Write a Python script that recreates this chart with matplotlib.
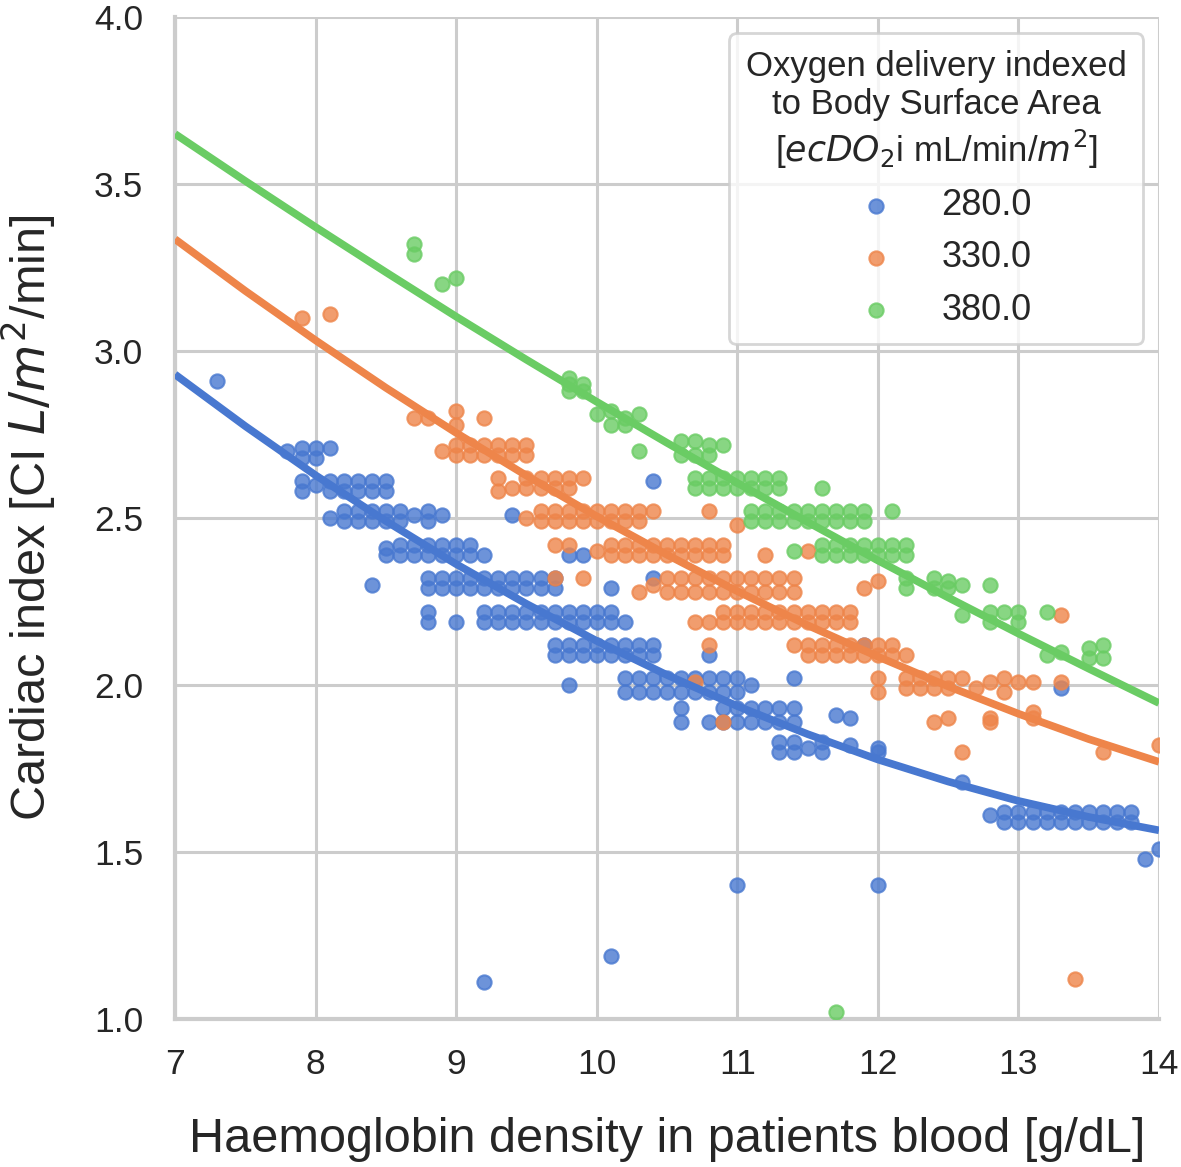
import numpy as np
import matplotlib.pyplot as plt

plt.rcParams['font.family'] = ['Liberation Sans', 'DejaVu Sans']
plt.rcParams['mathtext.fontset'] = 'dejavusans'

# oxygen delivery groups (legend labels)
groups = ['280.0', '330.0', '380.0']
colors = ['#4878d0', '#ee854a', '#6acc64']

# scatter points: {CI value: [Hb values]}
blue_rows = {
    2.91: [7.3],
    2.71: [7.9, 8.0, 8.1],
    2.70: [7.8],
    2.68: [7.9, 8.0],
    2.61: [7.9, 8.1, 8.2, 8.3, 8.4, 8.5, 10.4],
    2.60: [8.0],
    2.58: [7.9, 8.1, 8.2, 8.3, 8.4, 8.5],
    2.52: [8.2, 8.3, 8.4, 8.5, 8.6, 8.8],
    2.51: [8.7, 8.9, 9.4],
    2.50: [8.1],
    2.49: [8.2, 8.3, 8.4, 8.5, 8.6, 8.8],
    2.42: [8.6, 8.7, 8.8, 8.9, 9.0, 9.1],
    2.41: [8.5],
    2.39: [8.5, 8.6, 8.7, 8.8, 8.9, 9.0, 9.1, 9.2, 9.8, 9.9],
    2.32: [8.8, 8.9, 9.0, 9.1, 9.2, 9.3, 9.4, 9.5, 9.6, 9.7, 10.4],
    2.30: [8.4],
    2.29: [8.8, 8.9, 9.0, 9.1, 9.2, 9.3, 9.4, 9.5, 9.6, 9.7, 10.1],
    2.22: [8.8, 9.2, 9.3, 9.4, 9.5, 9.6, 9.7, 9.8, 9.9, 10.0, 10.1],
    2.19: [8.8, 9.0, 9.2, 9.3, 9.4, 9.5, 9.6, 9.7, 9.8, 9.9, 10.0, 10.1, 10.2],
    2.12: [9.7, 9.8, 9.9, 10.0, 10.1, 10.2, 10.3, 10.4, 11.9],
    2.09: [9.7, 9.8, 9.9, 10.0, 10.1, 10.2, 10.3, 10.4, 10.8],
    2.02: [10.2, 10.3, 10.4, 10.5, 10.6, 10.7, 10.8, 10.9, 11.0, 11.4],
    2.00: [9.8, 11.1],
    1.99: [13.3],
    1.98: [10.2, 10.3, 10.4, 10.5, 10.6, 10.7, 10.8, 10.9, 11.0],
    1.93: [10.6, 10.9, 11.0, 11.1, 11.2, 11.3, 11.4],
    1.91: [11.7],
    1.90: [11.8],
    1.89: [10.6, 10.8, 10.9, 11.0, 11.1, 11.2, 11.3, 11.4],
    1.83: [11.3, 11.4, 11.6],
    1.82: [11.8],
    1.81: [11.5, 12.0],
    1.80: [11.3, 11.4, 11.6, 12.0],
    1.71: [12.6],
    1.62: [12.9, 13.0, 13.1, 13.2, 13.3, 13.4, 13.5, 13.6, 13.7, 13.8],
    1.61: [12.8],
    1.59: [12.9, 13.0, 13.1, 13.2, 13.3, 13.4, 13.5, 13.6, 13.7, 13.8],
    1.51: [14.0],
    1.48: [13.9],
    1.40: [11.0, 12.0],
    1.19: [10.1],
    1.11: [9.2],
}
orange_rows = {
    3.11: [8.1],
    3.10: [7.9],
    2.82: [9.0],
    2.80: [8.7, 8.8, 9.2],
    2.78: [9.0],
    2.72: [9.0, 9.1, 9.2, 9.3, 9.4, 9.5],
    2.70: [8.9],
    2.69: [9.0, 9.1, 9.2, 9.3, 9.4, 9.5],
    2.62: [9.3, 9.5, 9.6, 9.7, 9.8, 9.9],
    2.59: [9.4, 9.5, 9.6, 9.7, 9.8],
    2.58: [9.3],
    2.52: [9.6, 9.7, 9.8, 9.9, 10.0, 10.1, 10.2, 10.3, 10.4, 10.8],
    2.50: [9.5],
    2.49: [9.6, 9.7, 9.8, 9.9, 10.0, 10.1, 10.2, 10.3],
    2.48: [11.0],
    2.42: [9.7, 9.8, 10.1, 10.2, 10.3, 10.4, 10.5, 10.6, 10.7, 10.8, 10.9],
    2.40: [10.0, 11.5],
    2.39: [10.1, 10.2, 10.3, 10.4, 10.5, 10.6, 10.7, 10.8, 10.9, 11.2],
    2.32: [9.7, 9.9, 10.5, 10.6, 10.7, 10.8, 10.9, 11.0, 11.1, 11.2, 11.3, 11.4],
    2.31: [12.0],
    2.30: [10.4],
    2.29: [11.9],
    2.28: [10.3, 10.5, 10.6, 10.7, 10.8, 10.9, 11.0, 11.1, 11.2, 11.3, 11.4],
    2.22: [10.9, 11.0, 11.1, 11.2, 11.3, 11.4, 11.5, 11.6, 11.7, 11.8],
    2.21: [13.3],
    2.19: [10.7, 10.8, 10.9, 11.0, 11.1, 11.2, 11.3, 11.4, 11.5, 11.6, 11.7, 11.8],
    2.12: [10.8, 11.4, 11.5, 11.6, 11.7, 11.8, 11.9, 12.0, 12.1],
    2.09: [11.5, 11.6, 11.7, 11.8, 11.9, 12.0, 12.1, 12.2],
    2.02: [12.0, 12.2, 12.3, 12.4, 12.5, 12.6, 12.9],
    2.01: [10.7, 12.8, 13.0, 13.1, 13.3],
    1.99: [12.2, 12.3, 12.4, 12.5, 12.7],
    1.98: [12.0, 12.9],
    1.92: [13.1],
    1.90: [12.5, 12.8, 13.1],
    1.89: [10.9, 12.4, 12.8],
    1.82: [14.0],
    1.80: [12.6, 13.6],
    1.12: [13.4],
}
green_rows = {
    3.32: [8.7],
    3.29: [8.7],
    3.22: [9.0],
    3.20: [8.9],
    2.92: [9.8],
    2.90: [9.8, 9.9],
    2.88: [9.8, 9.9],
    2.82: [10.1],
    2.81: [10.0, 10.3],
    2.80: [10.2],
    2.78: [10.1, 10.2],
    2.73: [10.6, 10.7],
    2.72: [10.8, 10.9],
    2.70: [10.3],
    2.69: [10.6, 10.7, 10.8],
    2.62: [10.7, 10.8, 10.9, 11.0, 11.1, 11.2, 11.3],
    2.59: [10.7, 10.8, 10.9, 11.0, 11.1, 11.2, 11.3, 11.6],
    2.52: [11.1, 11.2, 11.3, 11.4, 11.5, 11.6, 11.7, 11.8, 11.9, 12.1],
    2.49: [11.1, 11.2, 11.3, 11.4, 11.5, 11.6, 11.7, 11.8, 11.9],
    2.42: [11.6, 11.7, 11.8, 11.9, 12.0, 12.1, 12.2],
    2.40: [11.4],
    2.39: [11.6, 11.7, 11.8, 11.9, 12.0, 12.1, 12.2],
    2.32: [12.2, 12.4],
    2.31: [12.5],
    2.30: [12.6, 12.8],
    2.29: [12.2, 12.4, 12.5],
    2.22: [12.8, 12.9, 13.0, 13.2],
    2.21: [12.6],
    2.19: [12.8, 13.0],
    2.12: [13.6],
    2.11: [13.5],
    2.10: [13.3],
    2.09: [13.2],
    2.08: [13.5, 13.6],
    1.02: [11.7],
}

# fitted curves
fit_hb = [7.0, 7.5, 8.0, 8.5, 9.0, 9.5, 10.0, 10.5, 11.0, 11.5, 12.0, 12.5, 13.0, 13.5, 14.0]
fit_blue = [2.930, 2.775, 2.628, 2.491, 2.362, 2.243, 2.132, 2.030, 1.937, 1.853, 1.777, 1.711, 1.653, 1.605, 1.565]
fit_orange = [3.335, 3.180, 3.032, 2.890, 2.755, 2.627, 2.505, 2.390, 2.281, 2.179, 2.085, 1.996, 1.914, 1.838, 1.770]
fit_green = [3.650, 3.509, 3.371, 3.236, 3.103, 2.974, 2.848, 2.725, 2.605, 2.488, 2.373, 2.262, 2.154, 2.049, 1.946]


def flatten(rows):
    xs, ys = [], []
    for y, xlist in rows.items():
        for x in xlist:
            xs.append(x)
            ys.append(y)
    return xs, ys


fig = plt.figure(figsize=(11.81, 11.67), dpi=100)
ax = fig.add_axes([0.1482, 0.1268, 0.8332, 0.8586])

for rows, fit, col, lab in zip([blue_rows, orange_rows, green_rows],
                               [fit_blue, fit_orange, fit_green], colors, groups):
    xs, ys = flatten(rows)
    ax.scatter(xs, ys, s=105, color=col, alpha=0.8, linewidths=1.5, label=lab, zorder=3)
    ax.plot(fit_hb, fit, color=col, lw=5.5, solid_capstyle='butt', zorder=4)

ax.set_xlim(7, 14)
ax.set_ylim(1.0, 4.0)
ax.set_xticks(range(7, 15))
ax.set_yticks([1.0, 1.5, 2.0, 2.5, 3.0, 3.5, 4.0])
ax.set_yticklabels(['1.0', '1.5', '2.0', '2.5', '3.0', '3.5', '4.0'])

ax.grid(True, color='#cccccc', lw=2.2)
ax.set_axisbelow(True)
for s in ['top', 'right']:
    ax.spines[s].set_visible(False)
for s in ['left', 'bottom']:
    ax.spines[s].set_color('#cccccc')
    ax.spines[s].set_linewidth(3)
ax.tick_params(axis='both', length=0, labelsize=25.5, colors='#262626')
ax.tick_params(axis='x', pad=21)
ax.tick_params(axis='y', pad=23)

ax.set_xlabel('Haemoglobin density in patients blood [g/dL]', fontsize=35, color='#262626', labelpad=26)
ax.set_ylabel('Cardiac index [CI $L/m^2$/min]', fontsize=35, color='#262626', labelpad=26)

leg = ax.legend(title='Oxygen delivery indexed\nto Body Surface Area\n[$ecDO_2$i mL/min/$m^2$]',
                loc='upper right', fontsize=26, title_fontsize=25, frameon=True,
                edgecolor='#cccccc', framealpha=0.8, handletextpad=0.8,
                labelspacing=0.48, borderpad=0.45, borderaxespad=0.45)
leg.get_title().set_multialignment('center')
leg.get_title().set_color('#262626')
leg.get_frame().set_linewidth(2)
for t in leg.get_texts():
    t.set_color('#262626')

fig.savefig('out.png', dpi=100)
